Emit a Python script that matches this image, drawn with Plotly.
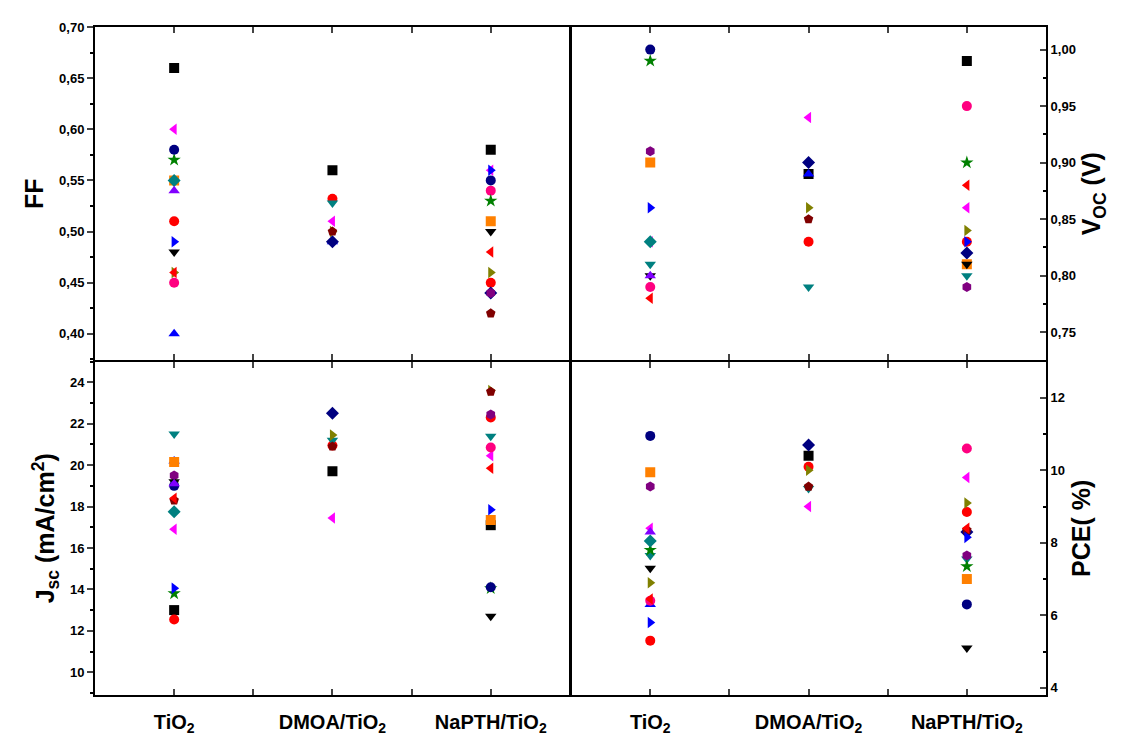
import plotly.graph_objects as go

# ---------------- data ----------------
categories = ["TiO<sub>2</sub>", "DMOA/TiO<sub>2</sub>", "NaPTH/TiO<sub>2</sub>"]
cat_pos = [1, 2, 3]

series = ["S1", "S2", "S3", "S4", "S5", "S6", "S7", "S8", "S9",
          "S10", "S11", "S12", "S13", "S14", "S15", "S16", "S17", "S18"]

# values per series: [TiO2, DMOA/TiO2, NaPTH/TiO2]
ff_values = [
    [0.66, 0.56, 0.58],
    [0.51, 0.532, 0.45],
    [0.40, 0.49, None],
    [None, 0.528, None],
    [0.60, 0.51, 0.56],
    [0.46, 0.50, 0.46],
    [None, 0.49, 0.44],
    [None, None, 0.44],
    [None, 0.50, 0.42],
    [0.45, None, 0.54],
    [0.57, None, 0.53],
    [0.55, None, 0.51],
    [0.49, None, 0.56],
    [0.48, None, 0.50],
    [0.46, None, 0.48],
    [0.58, None, 0.55],
    [0.55, None, None],
    [0.54, None, None],
]

voc_values = [
    [None, 0.89, 0.99],
    [None, 0.83, 0.83],
    [None, 0.89, None],
    [0.81, 0.79, 0.80],
    [0.83, 0.94, 0.86],
    [None, 0.86, 0.84],
    [None, 0.90, 0.82],
    [0.91, None, 0.79],
    [None, 0.85, None],
    [0.79, None, 0.95],
    [0.99, None, 0.90],
    [0.90, None, 0.81],
    [0.86, None, 0.83],
    [0.80, None, 0.81],
    [0.78, None, 0.88],
    [1.00, None, None],
    [0.83, None, None],
    [0.80, None, None],
]

jsc_values = [
    [13.0, 19.7, 17.1],
    [12.55, 20.95, 22.3],
    [20.2, None, None],
    [21.5, 21.2, 21.4],
    [16.9, 17.45, 20.45],
    [19.2, 21.45, 23.6],
    [None, 22.5, None],
    [19.5, None, 22.45],
    [18.3, 20.9, 23.55],
    [None, None, 20.85],
    [13.8, None, 14.05],
    [20.15, None, 17.35],
    [14.05, None, 17.85],
    [19.2, None, 12.7],
    [18.4, None, 19.85],
    [19.0, None, 14.1],
    [17.75, None, None],
    [19.1, None, None],
]

pce_values = [
    [None, 10.4, None],
    [5.3, 10.1, 8.85],
    [6.3, None, None],
    [7.65, 9.5, 7.55],
    [8.4, 9.0, 9.8],
    [6.9, 10.0, 9.1],
    [None, 10.7, 8.3],
    [9.55, None, 7.65],
    [None, 9.55, 8.35],
    [6.4, None, 10.6],
    [7.8, None, 7.35],
    [9.95, None, 7.0],
    [5.8, None, 8.15],
    [7.3, None, 5.1],
    [6.45, None, 8.4],
    [10.95, None, 6.3],
    [8.05, None, None],
    [8.3, None, None],
]

# ---------------- styles ----------------
symbols = ["square", "circle", "triangle-up", "triangle-down", "triangle-left",
           "triangle-right", "diamond", "hexagon", "pentagon", "circle", "star",
           "square", "triangle-right", "triangle-down", "triangle-left", "circle",
           "diamond", "triangle-up"]
colors = ["#000000", "#FF0000", "#0000FF", "#008080", "#FF00FF", "#808000",
          "#000080", "#800080", "#800000", "#FF0080", "#008000", "#FF8000",
          "#0000FF", "#000000", "#FF0000", "#000080", "#008080", "#8000FF"]

FONT = "Liberation Sans, Arial, sans-serif"

fig = go.Figure()

panels = [
    (ff_values, "x3", "y3"),
    (voc_values, "x4", "y4"),
    (jsc_values, "x", "y"),
    (pce_values, "x2", "y2"),
]

for vals, xa, ya in panels:
    for i, name in enumerate(series):
        fig.add_trace(go.Scatter(
            x=cat_pos, y=vals[i], mode="markers", name=name,
            xaxis=xa, yaxis=ya, showlegend=False,
            marker=dict(symbol=symbols[i], color=colors[i], size=10,
                        line=dict(width=0)),
        ))

tickvals_x = [0.5, 1, 1.5, 2, 2.5, 3, 3.5]
ticktext_x = ["", categories[0], "", categories[1], "", categories[2], ""]

def xax(domain, anchor, labels):
    return dict(domain=domain, anchor=anchor, range=[0.5, 3.5],
                tickvals=tickvals_x,
                ticktext=ticktext_x if labels else [""] * 7,
                ticks="inside", ticklen=6, tickwidth=2,
                ticklabelstandoff=8, automargin=False,
                showline=True, linewidth=2, linecolor="black", mirror="ticks",
                showgrid=False, zeroline=False,
                tickfont=dict(family=FONT, size=20, color="black", weight="bold"))

def yax(domain, anchor, rng, dtick, fmt, side, title, minor_dtick):
    return dict(domain=domain, anchor=anchor, range=rng, dtick=dtick,
                tick0=0, tickformat=fmt, side=side, automargin=False,
                ticks="outside" if side == "left" else "inside",
                ticklen=6, tickwidth=2,
                minor=dict(ticks="outside" if side == "left" else "inside",
                           ticklen=3, tickwidth=1.5, dtick=minor_dtick, tick0=0,
                           tickcolor="black"),
                showline=True, linewidth=2, linecolor="black", mirror=True,
                showgrid=False, zeroline=False,
                tickfont=dict(family=FONT, size=13, color="black", weight="bold"),
                title=dict(text=title, standoff=8,
                           font=dict(family=FONT, size=25, color="black",
                                     weight="bold")))

gx = 0.6 / 951   # sub-pixel gap so shared frame lines overlap
gy = 0.6 / 668

fig.update_layout(
    width=1133, height=744,
    margin=dict(l=95, r=87, t=27, b=49),
    paper_bgcolor="white", plot_bgcolor="white",
    separators=",.",
    showlegend=False,
    xaxis=xax([0, 0.5 - gx], "y", True),
    xaxis2=xax([0.5 + gx, 1], "y2", True),
    xaxis3=xax([0, 0.5 - gx], "y3", False),
    xaxis4=xax([0.5 + gx, 1], "y4", False),
    yaxis=yax([0, 0.5 - gy], "x", [8.9, 25], 2, "d", "left",
              "J<sub>sc</sub> (mA/cm<sup>2</sup>)", 1),
    yaxis2=yax([0, 0.5 - gy], "x2", [3.8, 13], 2, "d", "right", "PCE( %)", 1),
    yaxis3=yax([0.5 + gy, 1], "x3", [0.374, 0.70], 0.05, ".2f", "left", "FF", 0.025),
    yaxis4=yax([0.5 + gy, 1], "x4", [0.725, 1.02], 0.05, ".2f", "right",
               "V<sub>OC</sub> (V)", 0.025),
)

fig.write_html("out.html")
